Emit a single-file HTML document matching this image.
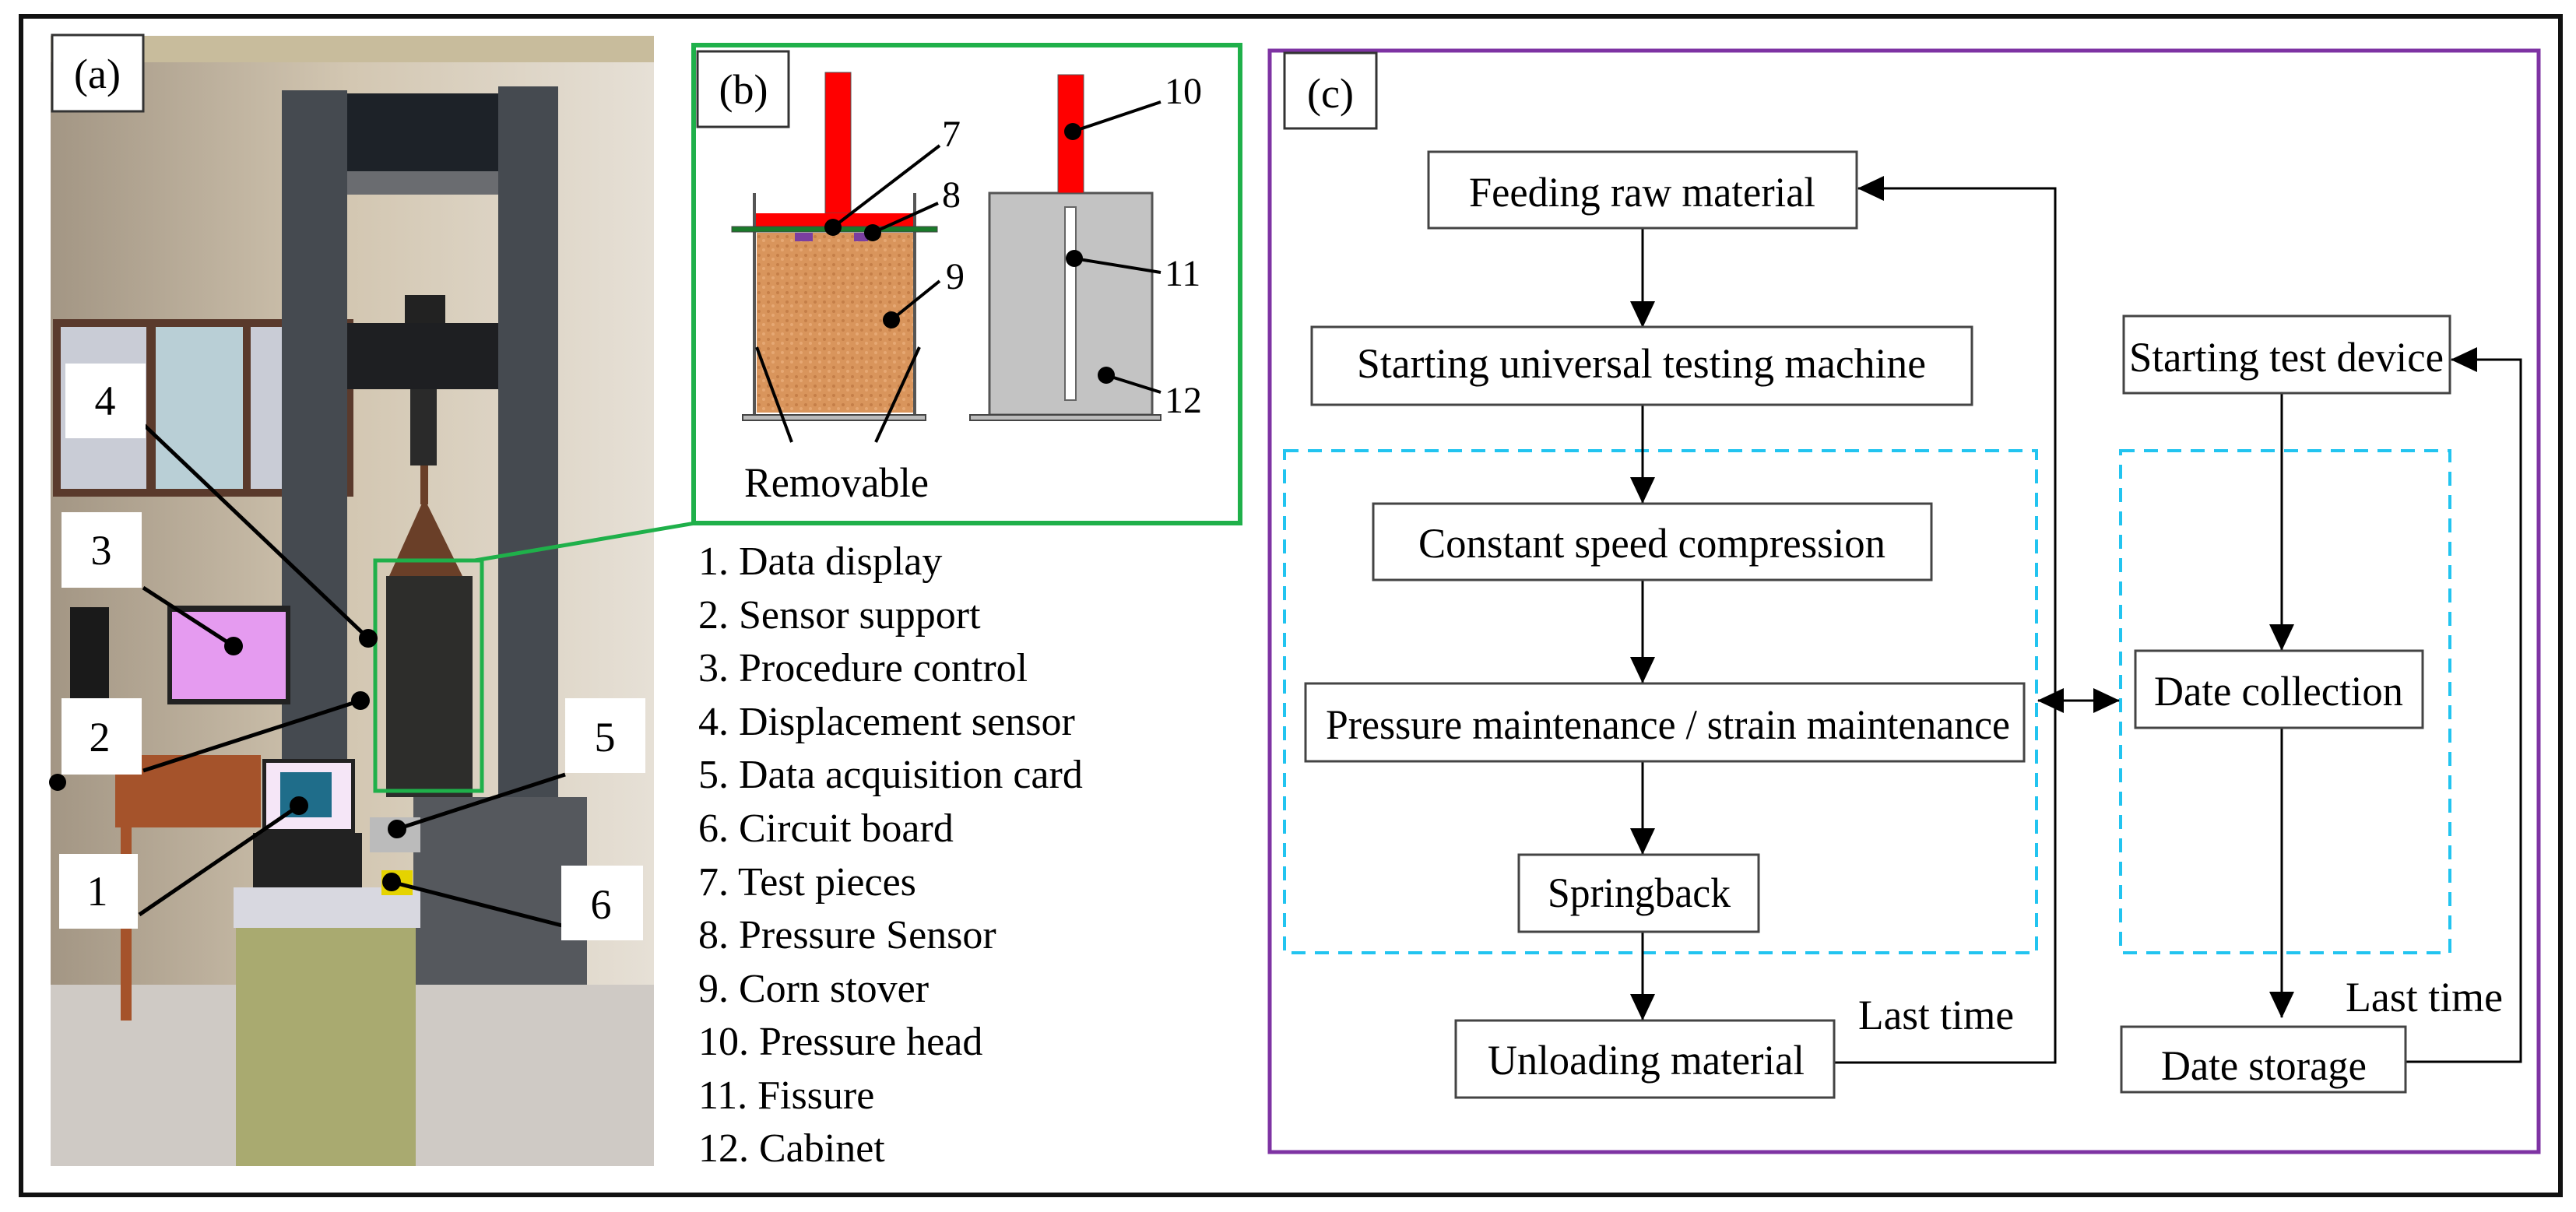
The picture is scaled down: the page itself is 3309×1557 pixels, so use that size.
<!DOCTYPE html>
<html><head><meta charset="utf-8"><style>html,body{margin:0;padding:0;background:#fff;font-family:"Liberation Serif","Times New Roman",Times,serif}svg{display:block}svg text{font-family:"Liberation Serif","Times New Roman",Times,serif;fill:#000}</style></head>
<body>
<svg width="3309" height="1557" viewBox="0 0 3309 1557" xmlns="http://www.w3.org/2000/svg" style="font-family:'Liberation Serif','Times New Roman',Times,serif">
<defs>
<marker id="ah" markerWidth="34" markerHeight="32" refX="33" refY="16" orient="auto" markerUnits="userSpaceOnUse" viewBox="0 0 34 32"><path d="M0,0 L34,16 L0,32 z" fill="#000"/></marker>
<linearGradient id="wall" x1="0" y1="0" x2="1" y2="0"><stop offset="0" stop-color="#a39684"/><stop offset="0.5" stop-color="#d3c7b2"/><stop offset="1" stop-color="#e6e0d6"/></linearGradient>
<pattern id="stover" width="12" height="12" patternUnits="userSpaceOnUse"><rect width="12" height="12" fill="#d9955c"/><circle cx="3" cy="4" r="2" fill="#c57f48"/><circle cx="9" cy="9" r="2" fill="#e6a874"/></pattern>
</defs>
<rect x="0" y="0" width="3309" height="1557" fill="#fff"/>
<rect x="27" y="21" width="3262" height="1514" fill="none" stroke="#111" stroke-width="6"/>

<!-- (a) photo -->
<g>
<rect x="65" y="46" width="775" height="1452" fill="url(#wall)"/>
<rect x="65" y="46" width="775" height="34" fill="#c8bc9c"/>
<rect x="65" y="1265" width="775" height="233" fill="#cfcac5"/>
<rect x="68" y="410" width="386" height="228" fill="#5a3a2c"/>
<rect x="78" y="420" width="110" height="208" fill="#c9ccd6"/>
<rect x="200" y="420" width="112" height="208" fill="#b9cfd6"/>
<rect x="322" y="420" width="40" height="208" fill="#c9ccd6"/>
<rect x="362" y="116" width="84" height="920" fill="#454a50"/>
<rect x="640" y="111" width="77" height="925" fill="#454a50"/>
<rect x="446" y="120" width="194" height="100" fill="#1d2228"/>
<rect x="446" y="220" width="194" height="30" fill="#6a6c70"/>
<rect x="446" y="415" width="194" height="85" fill="#1e1f22"/>
<rect x="520" y="379" width="52" height="36" fill="#222"/>
<rect x="527" y="500" width="34" height="98" fill="#2a2a2a"/>
<polygon points="545,640 500,740 594,740" fill="#6a3f28"/>
<rect x="540" y="598" width="10" height="50" fill="#6a3f28"/>
<rect x="496" y="740" width="111" height="284" fill="#2d2d2b"/>
<rect x="531" y="1024" width="223" height="241" fill="#55585d"/>
<rect x="148" y="970" width="187" height="93" fill="#a5532b"/>
<rect x="155" y="1063" width="14" height="248" fill="#a5532b"/>
<rect x="90" y="780" width="50" height="140" fill="#1a1a1a"/>
<rect x="215" y="778" width="158" height="127" fill="#222"/>
<rect x="221" y="786" width="146" height="112" fill="#e59bf0"/>
<rect x="337" y="975" width="119" height="95" fill="#222"/>
<rect x="342" y="980" width="109" height="85" fill="#f5e6f7"/>
<rect x="360" y="992" width="66" height="58" fill="#1f6d8a"/>
<rect x="325" y="1070" width="140" height="73" fill="#222"/>
<rect x="300" y="1140" width="240" height="52" fill="#d8d8e0"/>
<rect x="303" y="1192" width="231" height="306" fill="#a9aa70"/>
<rect x="475" y="1050" width="65" height="45" fill="#bbb"/>
<rect x="490" y="1118" width="40" height="32" fill="#e5d300"/>
</g>
<rect x="482" y="720" width="137" height="296" fill="none" stroke="#1fb04a" stroke-width="5"/>
<polyline points="610,720 893,672" fill="none" stroke="#1fb04a" stroke-width="5"/>
<rect x="67" y="45" width="117" height="98" fill="#fff" stroke="#333" stroke-width="3"/>
<text x="125" y="113" font-size="54" text-anchor="middle">(a)</text>

<!-- photo labels -->
<g stroke="#000" stroke-width="5">
<line x1="184" y1="545" x2="473" y2="820"/>
<line x1="184" y1="755" x2="300" y2="830"/>
<line x1="184" y1="990" x2="463" y2="900"/>
<line x1="179" y1="1175" x2="384" y2="1035"/>
<line x1="726" y1="995" x2="510" y2="1065"/>
<line x1="726" y1="1190" x2="503" y2="1133"/>
</g>
<g fill="#000">
<circle cx="473" cy="820" r="12"/><circle cx="300" cy="830" r="12"/><circle cx="463" cy="900" r="12"/>
<circle cx="384" cy="1035" r="12"/><circle cx="510" cy="1065" r="12"/><circle cx="503" cy="1133" r="12"/>
<circle cx="74" cy="1005" r="11"/>
</g>
<g fill="#fff">
<rect x="84" y="467" width="103" height="96"/><rect x="79" y="658" width="103" height="97"/>
<rect x="79" y="897" width="103" height="98"/><rect x="76" y="1097" width="101" height="96"/>
<rect x="726" y="897" width="103" height="96"/><rect x="721" y="1112" width="105" height="96"/>
</g>
<g font-size="54" text-anchor="middle">
<text x="135" y="533">4</text><text x="130" y="725">3</text><text x="128" y="965">2</text>
<text x="125" y="1163">1</text><text x="777" y="965">5</text><text x="772" y="1180">6</text>
</g>

<!-- (b) -->
<rect x="891" y="58" width="702" height="614" fill="#fff" stroke="#1fb04a" stroke-width="6"/>
<rect x="896" y="66" width="117" height="97" fill="#fff" stroke="#333" stroke-width="3"/>
<text x="955" y="133" font-size="54" text-anchor="middle">(b)</text>
<rect x="972" y="299" width="201" height="231" fill="url(#stover)"/>
<rect x="1021" y="299" width="23" height="11" fill="#7a3fa0"/>
<rect x="1097" y="299" width="18" height="11" fill="#7a3fa0"/>
<line x1="969" y1="248" x2="969" y2="533" stroke="#555" stroke-width="4"/>
<line x1="1175" y1="248" x2="1175" y2="533" stroke="#555" stroke-width="4"/>
<rect x="1060" y="93" width="33" height="181" fill="#f00" stroke="#555" stroke-width="1"/>
<rect x="971" y="274" width="202" height="17" fill="#f00"/>
<rect x="940" y="291" width="264" height="7" fill="#1a7a2a" stroke="#444" stroke-width="1"/>
<rect x="954" y="533" width="235" height="7" fill="#bbb" stroke="#444" stroke-width="2"/>
<rect x="1271" y="248" width="209" height="285" fill="#c3c3c3" stroke="#555" stroke-width="3"/>
<rect x="1359" y="96" width="33" height="152" fill="#f00" stroke="#555" stroke-width="1"/>
<rect x="1368" y="266" width="14" height="248" fill="#fff" stroke="#666" stroke-width="2"/>
<rect x="1246" y="533" width="245" height="7" fill="#bbb" stroke="#444" stroke-width="2"/>
<g stroke="#000" stroke-width="4">
<line x1="972" y1="446" x2="1017" y2="568"/><line x1="1181" y1="446" x2="1125" y2="568"/>
<line x1="1070" y1="292" x2="1207" y2="187"/><line x1="1121" y1="299" x2="1205" y2="261"/>
<line x1="1145" y1="411" x2="1207" y2="361"/><line x1="1378" y1="169" x2="1491" y2="131"/>
<line x1="1380" y1="332" x2="1491" y2="350"/><line x1="1421" y1="482" x2="1491" y2="504"/>
</g>
<g fill="#000">
<circle cx="1070" cy="292" r="11"/><circle cx="1121" cy="299" r="11"/><circle cx="1145" cy="411" r="11"/>
<circle cx="1378" cy="169" r="11"/><circle cx="1380" cy="332" r="11"/><circle cx="1421" cy="482" r="11"/>
</g>
<g font-size="48">
<text x="1210" y="188">7</text><text x="1210" y="266">8</text><text x="1215" y="371">9</text>
<text x="1496" y="133">10</text><text x="1496" y="367">11</text><text x="1496" y="530">12</text>
</g>
<text x="956" y="638" font-size="54" textLength="237" lengthAdjust="spacingAndGlyphs">Removable</text>

<!-- legend -->
<g font-size="52">
<text x="897" y="738">1. Data display</text>
<text x="897" y="807">2. Sensor support</text>
<text x="897" y="875">3. Procedure control</text>
<text x="897" y="944">4. Displacement sensor</text>
<text x="897" y="1012">5. Data acquisition card</text>
<text x="897" y="1081">6. Circuit board</text>
<text x="897" y="1150">7. Test pieces</text>
<text x="897" y="1218">8. Pressure Sensor</text>
<text x="897" y="1287">9. Corn stover</text>
<text x="897" y="1355">10. Pressure head</text>
<text x="897" y="1424">11. Fissure</text>
<text x="897" y="1492">12. Cabinet</text>
</g>

<!-- (c) -->
<rect x="1631" y="65" width="1630" height="1415" fill="none" stroke="#7e33a3" stroke-width="5"/>
<rect x="1650" y="68" width="118" height="97" fill="#fff" stroke="#333" stroke-width="3"/>
<text x="1709" y="138" font-size="54" text-anchor="middle">(c)</text>

<g fill="none" stroke="#22c4f0" stroke-width="4" stroke-dasharray="18,12">
<rect x="1650" y="579" width="966" height="645"/>
<rect x="2724" y="579" width="423" height="645"/>
</g>

<g stroke="#000" stroke-width="3" fill="none">
<line x1="2110" y1="293" x2="2110" y2="420" marker-end="url(#ah)"/>
<line x1="2110" y1="520" x2="2110" y2="646" marker-end="url(#ah)"/>
<line x1="2110" y1="745" x2="2110" y2="877" marker-end="url(#ah)"/>
<line x1="2110" y1="978" x2="2110" y2="1097" marker-end="url(#ah)"/>
<line x1="2110" y1="1197" x2="2110" y2="1310" marker-end="url(#ah)"/>
<polyline points="2356,1365 2640,1365 2640,242 2387,242" marker-end="url(#ah)"/>
<line x1="2931" y1="505" x2="2931" y2="835" marker-end="url(#ah)"/>
<line x1="2931" y1="935" x2="2931" y2="1307" marker-end="url(#ah)"/>
<polyline points="3090,1364 3238,1364 3238,462 3149,462" marker-end="url(#ah)"/>
<line x1="2668" y1="900" x2="2618" y2="900" marker-end="url(#ah)"/>
<line x1="2660" y1="900" x2="2722" y2="900" marker-end="url(#ah)"/>
</g>

<g fill="#fff" stroke="#444" stroke-width="3">
<rect x="1835" y="195" width="550" height="98"/>
<rect x="1685" y="420" width="848" height="100"/>
<rect x="1764" y="647" width="717" height="98"/>
<rect x="1677" y="878" width="923" height="100"/>
<rect x="1951" y="1098" width="308" height="99"/>
<rect x="1870" y="1311" width="486" height="99"/>
<rect x="2728" y="406" width="419" height="99"/>
<rect x="2743" y="836" width="369" height="99"/>
<rect x="2725" y="1319" width="365" height="84"/>
</g>
<g font-size="54">
<text x="1887" y="265" textLength="445" lengthAdjust="spacingAndGlyphs">Feeding raw material</text>
<text x="1743" y="485" textLength="731" lengthAdjust="spacingAndGlyphs">Starting universal testing machine</text>
<text x="1822" y="716" textLength="600" lengthAdjust="spacingAndGlyphs">Constant speed compression</text>
<text x="1703" y="949" textLength="879" lengthAdjust="spacingAndGlyphs">Pressure maintenance / strain maintenance</text>
<text x="1988" y="1165" textLength="235" lengthAdjust="spacingAndGlyphs">Springback</text>
<text x="1911" y="1380" textLength="407" lengthAdjust="spacingAndGlyphs">Unloading material</text>
<text x="2735" y="477" textLength="404" lengthAdjust="spacingAndGlyphs">Starting test device</text>
<text x="2767" y="906" textLength="320" lengthAdjust="spacingAndGlyphs">Date collection</text>
<text x="2776" y="1387" textLength="264" lengthAdjust="spacingAndGlyphs">Date storage</text>
<text x="2387" y="1322" textLength="200" lengthAdjust="spacingAndGlyphs">Last time</text>
<text x="3013" y="1299" textLength="202" lengthAdjust="spacingAndGlyphs">Last time</text>
</g>
</svg>
</body></html>
